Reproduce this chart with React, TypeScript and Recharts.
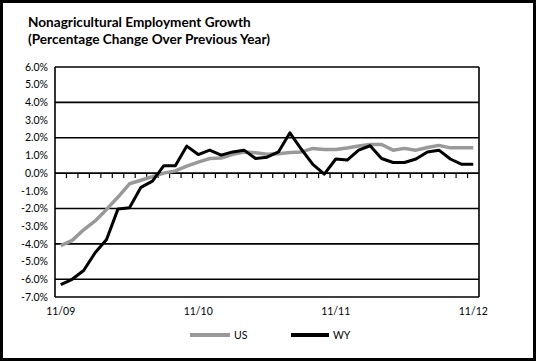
import { LineChart, Line, XAxis, YAxis, CartesianGrid, ReferenceLine } from 'recharts'

const MONTHS = [
  '11/09', '12/09', '1/10', '2/10', '3/10', '4/10', '5/10', '6/10', '7/10', '8/10', '9/10', '10/10',
  '11/10', '12/10', '1/11', '2/11', '3/11', '4/11', '5/11', '6/11', '7/11', '8/11', '9/11', '10/11',
  '11/11', '12/11', '1/12', '2/12', '3/12', '4/12', '5/12', '6/12', '7/12', '8/12', '9/12', '10/12',
  '11/12'
]

const US = [
  -4.1, -3.8, -3.2, -2.7, -2.05, -1.35, -0.6, -0.4, -0.2, 0.0, 0.13, 0.4,
  0.62, 0.83, 0.85, 1.07, 1.2, 1.15, 1.07, 1.1, 1.17, 1.2, 1.4, 1.34,
  1.34, 1.42, 1.53, 1.62, 1.62, 1.3, 1.4, 1.3, 1.45, 1.57, 1.43, 1.43,
  1.43
]

const WY = [
  -6.3, -6.0, -5.5, -4.5, -3.75, -2.02, -1.95, -0.8, -0.45, 0.42, 0.42, 1.53,
  1.05, 1.3, 1.02, 1.2, 1.3, 0.83, 0.9, 1.2, 2.28, 1.35, 0.5, -0.05,
  0.8, 0.74, 1.3, 1.55, 0.83, 0.6, 0.6, 0.8, 1.2, 1.3, 0.8, 0.5,
  0.5
]

const Y_TICKS = [-7, -6, -5, -4, -3, -2, -1, 0, 1, 2, 3, 4, 5, 6]
const X_LABEL_INDEXES = [0, 12, 24, 36]

const data = MONTHS.map((month, i) => ({ i, month, us: US[i], wy: WY[i] }))

// small tick marks on the zero line, between categories
const zeroTicks = MONTHS.slice(1).map((_, i) => i + 0.5)

const FONT = 'Lato, "Open Sans", sans-serif'
const pct = (v: number) => `${v.toFixed(1)}%`

export default function App() {
  return (
    <div style={{ position: 'absolute', left: 0, top: 0, width: 536, height: 361, background: '#fff', fontFamily: FONT }}>
      <div style={{ position: 'absolute', left: 28, top: 14, fontSize: 13.6, fontWeight: 700, lineHeight: '17px', color: '#000' }}>
        Nonagricultural Employment Growth
        <br />
        (Percentage Change Over Previous Year)
      </div>

      <LineChart
        width={536}
        height={361}
        data={data}
        margin={{ top: 67, right: 0, bottom: 34, left: 0 }}
        style={{ position: 'absolute', left: 0, top: 0 }}
      >
        <CartesianGrid vertical={false} stroke="#000" strokeWidth={1.6} yAxisId="left" />
        <XAxis
          dataKey="i"
          type="number"
          domain={[-0.5, 36.5]}
          ticks={X_LABEL_INDEXES}
          tickFormatter={(v: number) => MONTHS[v]}
          axisLine={false}
          tickLine={false}
          tickMargin={5}
          height={30}
          tick={{ fill: '#000', fontSize: 10.5, fontFamily: FONT }}
        />
        <YAxis
          yAxisId="left"
          domain={[-7, 6]}
          ticks={Y_TICKS}
          tickFormatter={pct}
          width={55}
          axisLine={{ stroke: '#000', strokeWidth: 1.6 }}
          tickLine={false}
          tickMargin={1}
          tick={{ fill: '#000', fontSize: 10.5, fontFamily: FONT }}
        />
        <YAxis
          yAxisId="right"
          orientation="right"
          domain={[-7, 6]}
          ticks={Y_TICKS}
          tickFormatter={pct}
          width={57}
          axisLine={{ stroke: '#000', strokeWidth: 1.6 }}
          tickLine={false}
          tickMargin={3}
          tick={{ fill: '#000', fontSize: 10.5, fontFamily: FONT, textAnchor: 'start' }}
        />
        {zeroTicks.map((x) => (
          <ReferenceLine
            key={x}
            yAxisId="left"
            segment={[{ x, y: 0 }, { x, y: -0.28 }]}
            stroke="#000"
            strokeWidth={1.2}
          />
        ))}
        <Line
          yAxisId="left"
          dataKey="us"
          stroke="#999"
          strokeWidth={3.5}
          dot={false}
          isAnimationActive={false}
          strokeLinejoin="round"
        />
        <Line
          yAxisId="left"
          dataKey="wy"
          stroke="#000"
          strokeWidth={3}
          dot={false}
          isAnimationActive={false}
          strokeLinejoin="round"
        />
      </LineChart>

      <div style={{ position: 'absolute', left: 190, top: 329, fontSize: 10.5, color: '#000', display: 'flex', alignItems: 'center' }}>
        <span style={{ display: 'inline-block', width: 40, height: 4, background: '#999' }} />
        <span style={{ marginLeft: 4, width: 57 }}>US</span>
        <span style={{ display: 'inline-block', width: 38, height: 4, background: '#000' }} />
        <span style={{ marginLeft: 4 }}>WY</span>
      </div>

      <div style={{ position: 'absolute', left: 0, top: 0, width: 536, height: 361, border: '3px solid #000', boxSizing: 'border-box', pointerEvents: 'none' }} />
    </div>
  )
}
